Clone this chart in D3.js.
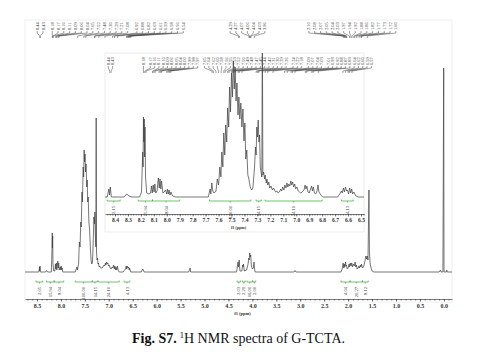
<!DOCTYPE html>
<html>
<head>
<meta charset="utf-8">
<script src="https://cdn.jsdelivr.net/npm/d3@7"></script>
<style>
	body { margin: 0; background: #fff; }
	svg { display: block; }
	.nmr-axis text { font-family: 'Liberation Serif', serif; font-weight: bold; fill: #333; }
	.nmr-axis path, .nmr-axis line { stroke: #444; stroke-width: 0.7; }
</style>
</head>
<body>
<div id="chart"></div>
<script>
'use strict';

// full spectrum, [ppm, intensity]
var mainSpectrum = [
	[8.75,0],[8.46,0],[8.447,5],[8.442,1],[8.436,6],[8.43,0],
	[8.32,0],[8.30,1.5],[8.28,0],
	[8.20,0],[8.186,22],[8.181,39],[8.177,24],[8.172,36],[8.166,8],[8.15,1],
	[8.125,1],[8.115,8],[8.105,3],[8.095,9],[8.085,2],[8.065,11],[8.055,4],[8.045,9],[8.035,2],[8.015,5],[8.005,2],[7.995,6],[7.985,2],[7.975,4],[7.96,0],
	[7.70,0],[7.665,5],[7.655,2],[7.645,5],[7.63,8],[7.615,30],[7.60,25],[7.585,50],[7.575,45],[7.56,80],[7.55,70],[7.535,105],[7.525,95],[7.515,122],[7.505,110],[7.495,118],[7.485,100],[7.475,108],[7.46,85],[7.45,92],[7.44,70],[7.43,75],[7.415,50],[7.40,42],[7.385,25],[7.37,12],[7.355,8],[7.34,10],
	[7.325,30],[7.31,55],[7.30,48],[7.29,60],[7.28,35],[7.27,25],[7.263,154],[7.256,20],[7.245,12],[7.235,14],[7.225,8],[7.215,9],[7.20,5],[7.19,6],[7.17,4],[7.15,4],[7.12,5],[7.10,7],[7.085,6],[7.07,9],[7.06,7],[7.045,10],[7.035,8],[7.02,9],[7.005,6],[6.99,7],[6.97,4],[6.95,3],[6.93,5],[6.915,4],[6.90,7],[6.885,3],[6.875,6],[6.86,2],[6.85,5],[6.835,2],[6.82,6],[6.80,1],[6.78,0],
	[6.70,0],[6.67,2],[6.65,3],[6.635,6],[6.625,3],[6.615,6],[6.60,4],[6.585,5],[6.575,2],[6.565,4],[6.54,0],
	[6.32,0],[6.29,3],[6.26,0],
	[5.33,0],[5.30,4],[5.29,0],
	[4.33,0],[4.30,10],[4.29,5],[4.275,12],[4.26,1],[4.22,1],[4.205,7],[4.195,5],[4.185,8],[4.17,1],[4.12,2],[4.09,8],[4.075,14],[4.065,12],[4.055,19],[4.045,15],[4.035,17],[4.02,6],[4.00,3],[3.98,4],[3.965,10],[3.955,3],[3.94,0],
	[3.13,0],[3.11,1.5],[3.09,0],
	[2.15,0],[2.125,3],[2.105,9],[2.09,4],[2.08,8],[2.07,5],[2.055,10],[2.045,6],[2.035,7],[2.02,3],[2.00,4],[1.98,8],[1.97,5],[1.955,9],[1.94,6],[1.925,9],[1.91,5],[1.89,8],[1.87,6],[1.855,10],[1.84,5],[1.825,7],[1.81,3],[1.79,4],[1.775,6],[1.76,4],[1.745,7],[1.735,5],[1.72,8],[1.70,4],[1.68,5],[1.66,8],[1.645,12],[1.63,16],[1.615,13],[1.60,16],[1.585,12],[1.565,82],[1.555,20],[1.54,8],[1.52,4],[1.50,1],[1.46,0],
	[0.10,0],[0.07,2],[0.06,0],[0.02,0],[0.003,204],[-0.003,0],[-0.05,0],[-0.06,2],[-0.07,0],[-0.17,0]
];

// aromatic region, expanded
var insetSpectrum = [
	[8.48,0],[8.46,0],[8.447,8],[8.442,2],[8.436,10],[8.428,0],
	[8.33,0],[8.31,3],[8.29,1],[8.27,0],
	[8.21,0],[8.195,5],[8.186,45],[8.183,30],[8.180,80],[8.177,55],[8.174,78],[8.171,40],[8.168,70],[8.164,20],[8.155,4],[8.14,3],
	[8.125,4],[8.118,11],[8.112,4],[8.105,12],[8.098,5],[8.092,13],[8.085,4],[8.075,6],[8.065,19],[8.058,9],[8.052,18],[8.046,8],[8.04,16],[8.03,4],[8.02,5],[8.01,7],[8.00,3],[7.995,8],[7.988,3],[7.982,7],[7.975,2],[7.968,5],[7.955,1],[7.93,0],
	[7.68,0],[7.665,8],[7.66,3],[7.652,14],[7.645,6],[7.635,4],[7.625,5],
	[7.62,6],[7.61,18],[7.60,12],[7.59,30],[7.582,20],[7.575,45],[7.567,30],[7.56,64],[7.552,42],[7.545,72],[7.537,55],[7.53,89],[7.522,70],[7.515,110],[7.508,85],[7.50,124],[7.493,100],[7.486,136],[7.479,108],[7.472,130],[7.465,96],[7.458,114],[7.45,82],[7.443,100],[7.436,78],[7.428,94],[7.42,70],[7.412,88],[7.404,56],[7.397,74],[7.39,38],[7.382,47],[7.374,22],[7.366,18],[7.356,10],[7.345,7],[7.335,9],
	[7.322,30],[7.315,50],[7.31,42],[7.305,70],[7.30,60],[7.294,77],[7.288,55],[7.283,62],[7.278,30],[7.272,25],[7.266,20],[7.262,170],[7.258,22],[7.252,25],[7.245,18],[7.24,22],[7.232,14],[7.226,18],[7.22,12],[7.212,15],[7.205,9],[7.195,11],[7.185,7],[7.175,9],[7.16,5],[7.15,6],[7.14,4],[7.13,5],[7.12,8],[7.112,6],[7.105,10],[7.095,7],[7.088,12],[7.08,9],[7.072,14],[7.065,10],[7.058,13],[7.05,11],[7.042,16],[7.035,12],[7.028,15],[7.02,10],[7.012,13],[7.005,8],[6.995,10],[6.985,6],[6.975,5],[6.965,4],[6.955,5],[6.94,7],[6.932,12],[6.925,8],[6.918,11],[6.91,5],[6.90,4],[6.89,8],[6.882,11],[6.875,6],[6.868,10],[6.86,4],[6.85,3],[6.84,6],[6.832,12],[6.825,5],[6.81,2],[6.795,0],
	[6.68,0],[6.665,3],[6.652,6],[6.645,4],[6.636,9],[6.628,5],[6.62,10],[6.612,6],[6.605,7],[6.596,3],[6.588,9],[6.58,4],[6.572,8],[6.565,3],[6.555,5],[6.54,1],[6.52,0],[6.47,0]
];

// integrals: [from ppm, to ppm, value]
var mainIntegrals = [
	[8.52,8.38,'2.05'],[8.30,8.14,'15.94'],[8.14,7.94,'8.04'],[7.70,7.35,'400.00'],[7.34,7.24,'14.15'],
	[7.22,6.78,'24.10'],[6.68,6.56,'4.13'],[4.32,4.25,'2.03'],[4.21,4.15,'2.29'],[4.11,4.00,'16.00'],
	[3.99,3.93,'2.00'],[2.15,1.96,'4.04'],[1.96,1.70,'20.27'],[1.70,1.58,'8.12']
];
var insetIntegrals = [
	[8.46,8.36,'2.15'],[8.22,8.11,'15.94'],[8.11,7.90,'8.04'],[7.67,7.35,'400.00'],
	[7.31,7.27,'14.15'],[7.24,6.80,'24.10'],[6.65,6.56,'4.13']
];

// peak labels, one list per bracket
var mainPeakLabels = [
	[8.44, 8.43],
	[8.18, 8.17, 8.16, 8.11, 8.09, 8.06, 8.04, 7.65, 7.52, 7.48, 7.30, 7.29, 7.21, 7.08],
	[6.92, 6.88, 6.82, 6.63, 6.61, 6.59, 6.58, 6.56, 6.54],
	[4.29, 4.27, 4.07, 4.06, 4.04, 4.03, 3.96],
	[2.10, 2.08, 2.07, 2.05, 2.04, 2.03, 1.97, 1.94, 1.92, 1.88, 1.86, 1.82, 1.77, 1.73, 1.72, 1.60]
];
var insetPeakLabels = [
	[8.44, 8.43],
	[8.18],
	[8.17, 8.16, 8.11, 8.10, 8.09, 8.06, 8.05, 8.04, 8.00, 7.99, 7.98, 7.97],
	[7.65, 7.64, 7.62, 7.60, 7.58, 7.56, 7.55, 7.53, 7.52, 7.50, 7.49, 7.48, 7.47, 7.45, 7.44, 7.42, 7.31, 7.30, 7.29, 7.26],
	[7.24, 7.22, 7.18],
	[7.09, 7.07, 7.04, 7.03],
	[7.01, 6.93, 6.92, 6.88, 6.87, 6.83, 6.64, 6.62, 6.60, 6.59, 6.57]
];

var mainTicks = d3.range(0, 8.51, 0.5);
var insetTicks = d3.range(6.5, 8.41, 0.1);

var width = 482, height = 361;

var svg = d3.select('#chart').append('svg')
	.attr('width', width)
	.attr('height', height);

function drawSpectrum(g, data, x, y) {
	var line = d3.line()
		.x(function(d) { return x(d[0]); })
		.y(function(d) { return y(d[1]); });
	g.append('path')
		.datum(data)
		.attr('d', line)
		.attr('fill', 'none')
		.attr('stroke', '#3c3c3c')
		.attr('stroke-width', 0.7)
		.attr('stroke-linejoin', 'round');
}

function drawAxis(g, x, yPos, ticks, minorStep, fmt, fontSize, titleY) {
	var domain = x.domain();
	var minor = d3.range(Math.ceil(domain[1] / minorStep) * minorStep, domain[0], minorStep);
	g.append('g')
		.attr('class', 'nmr-axis')
		.attr('transform', 'translate(0,' + yPos + ')')
		.call(d3.axisBottom(x).tickValues(minor).tickSize(1.5).tickFormat(''))
		.call(function(a) { a.select('.domain').remove(); });
	var axis = g.append('g')
		.attr('class', 'nmr-axis')
		.attr('transform', 'translate(0,' + yPos + ')')
		.call(d3.axisBottom(x).tickValues(ticks).tickSize(2.5).tickSizeOuter(0).tickPadding(2).tickFormat(d3.format(fmt)));
	axis.selectAll('text').style('font-size', fontSize + 'px');
	g.append('text')
		.attr('x', (x.range()[0] + x.range()[1]) / 2 + 4)
		.attr('y', titleY)
		.attr('text-anchor', 'middle')
		.style('font-family', "'Liberation Serif', serif")
		.style('font-weight', 'bold')
		.style('font-size', (fontSize - 1.5) + 'px')
		.attr('fill', '#333')
		.text('f1 (ppm)');
}

function drawIntegrals(g, data, x, yLine, yText, fontSize) {
	var item = g.selectAll('g.integral')
		.data(data)
		.enter()
		.append('g')
		.attr('class', 'integral');
	item.append('path')
		.attr('d', function(d) {
			var x0 = x(d[0]), x1 = x(d[1]), xm = (x0 + x1) / 2;
			return 'M' + x0 + ',' + (yLine - 1.5) + 'V' + yLine + 'H' + x1 + 'V' + (yLine - 1.5) +
				'M' + xm + ',' + yLine + 'V' + (yLine + 1.5);
		})
		.attr('fill', 'none')
		.attr('stroke', '#3aa83a')
		.attr('stroke-width', 0.7);
	item.append('text')
		.attr('transform', function(d) {
			return 'translate(' + x((d[0] + d[1]) / 2) + ',' + yText + ') rotate(-90)';
		})
		.attr('text-anchor', 'end')
		.attr('dy', '0.35em')
		.style('font-family', "'Liberation Serif', serif")
		.style('font-size', fontSize + 'px')
		.attr('fill', '#333')
		.text(function(d) { return d[2]; });
}

function drawPeakLabels(g, groups, x, opts) {
	var prevEnd = -Infinity;
	groups.forEach(function(group) {
		var px = group.map(function(p) { return x(p); });
		var n = group.length;
		var start = d3.mean(px) - (n - 1) / 2 * opts.spacing;
		start = Math.max(start, prevEnd + opts.spacing * 1.6);
		prevEnd = start + (n - 1) * opts.spacing;
		group.forEach(function(p, i) {
			var lx = start + i * opts.spacing;
			g.append('text')
				.attr('transform', 'translate(' + lx + ',' + opts.textBottom + ') rotate(-90)')
				.attr('dy', '0.35em')
				.style('font-family', "'Liberation Serif', serif")
				.style('font-size', opts.fontSize + 'px')
				.attr('fill', '#333')
				.text(p.toFixed(2));
			g.append('path')
				.attr('d', 'M' + lx + ',' + (opts.textBottom + 1) + 'V' + (opts.textBottom + 3) +
					'L' + px[i] + ',' + (opts.textBottom + 6) + 'V' + (opts.textBottom + 8))
				.attr('fill', 'none')
				.attr('stroke', '#444')
				.attr('stroke-width', 0.5);
		});
	});
}

// main spectrum
var x = d3.scaleLinear().domain([8.75, -0.17]).range([25, 452]);
var y = d3.scaleLinear().domain([0, 252]).range([272, 20]);

var main = svg.append('g');
main.append('rect')
	.attr('x', 25).attr('y', 20).attr('width', 427).attr('height', 282)
	.attr('fill', 'none').attr('stroke', '#e4e4e4').attr('stroke-width', 0.6);
drawSpectrum(main, mainSpectrum, x, y);
drawAxis(main, x, 299, mainTicks, 0.1, '.1f', 6, 315);
drawIntegrals(main, mainIntegrals, x, 282, 287, 4.6);
drawPeakLabels(main, mainPeakLabels, x, { textBottom: 30, spacing: 5.8, fontSize: 4.4 });

// inset
var xi = d3.scaleLinear().domain([8.477, 6.477]).range([105, 364]);
var yi = d3.scaleLinear().domain([0, 144]).range([197, 53]);

var inset = svg.append('g');
inset.append('rect')
	.attr('x', 105).attr('y', 53).attr('width', 259).attr('height', 179)
	.attr('fill', '#fff').attr('stroke', '#dcdcdc').attr('stroke-width', 0.6);
svg.append('clipPath').attr('id', 'inset-clip')
	.append('rect').attr('x', 105).attr('y', 53).attr('width', 259).attr('height', 179);
drawSpectrum(inset.append('g').attr('clip-path', 'url(#inset-clip)'), insetSpectrum, xi, yi);
drawAxis(inset, xi, 214, insetTicks, 0.02, '.1f', 5.6, 229);
drawIntegrals(inset, insetIntegrals, xi, 201, 206, 4.6);
drawPeakLabels(inset, insetPeakLabels, xi, { textBottom: 65, spacing: 4.3, fontSize: 4.4 });

// caption
var caption = svg.append('text')
	.attr('x', 132)
	.attr('y', 343)
	.style('font-family', "'Liberation Serif', serif")
	.style('font-size', '14px')
	.attr('fill', '#111');
caption.append('tspan').style('font-weight', 'bold').text('Fig. S7.');
caption.append('tspan').attr('dx', 3).attr('dy', -5).style('font-size', '8.5px').text('1');
caption.append('tspan').attr('dy', 5).text('H NMR spectra of G-TCTA.');
</script>
</body>
</html>
